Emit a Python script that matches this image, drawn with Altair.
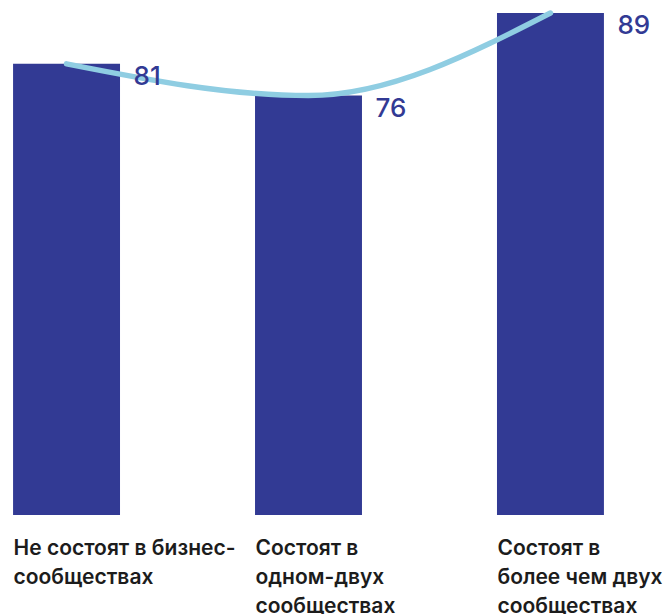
import altair as alt
import pandas as pd

categories = [
    "Не состоят в бизнес-|сообществах",
    "Состоят в|одном-двух|сообществах",
    "Состоят в|более чем двух|сообществах",
]
values = [81, 76, 89]
axis_min = 10

df = pd.DataFrame({"cat": categories, "val": values})

NAVY = "#323a94"
LIGHT = "#8fcde2"

x = alt.X(
    "cat:N",
    sort=categories,
    scale=alt.Scale(paddingInner=0.558, paddingOuter=0.054),
    axis=alt.Axis(
        title=None,
        domain=False,
        ticks=False,
        grid=False,
        tickSize=0,
        labelAngle=0,
        labelAlign="left",
        labelBaseline="top",
        labelOffset=-53,
        labelPadding=22,
        labelFont="Inter",
        labelFontSize=21,
        labelFontWeight=600,
        labelColor="#1c1c1c",
        labelLineHeight=29,
        labelLimit=0,
        labelExpr="split(datum.label, '|')",
    ),
)
y = alt.Y("val:Q", scale=alt.Scale(domain=[axis_min, 89], zero=False, nice=False), axis=None)

base = alt.Chart(df).encode(x=x, y=y)

bars = base.mark_bar(color=NAVY).encode(y2=alt.datum(axis_min))
line = base.mark_line(color=LIGHT, strokeWidth=5.5, interpolate="monotone", strokeCap="round")
labels = base.mark_text(
    align="left", baseline="top", dx=67, dy=0,
    font="Inter", fontSize=26, fontWeight=500, color=NAVY,
).encode(text="val:Q")

chart = (
    alt.layer(bars, line, labels)
    .properties(
        width=617,
        height=502,
        autosize=alt.AutoSizeParams(type="none"),
        padding={"left": 0, "top": 13, "right": 54, "bottom": 99},
        view=alt.ViewBackground(stroke="transparent", strokeWidth=0),
    )
    .configure_view(strokeWidth=0, stroke="transparent")
    .configure(background="white")
)

chart.save("out.html", embed_options={"renderer": "svg", "actions": False})
